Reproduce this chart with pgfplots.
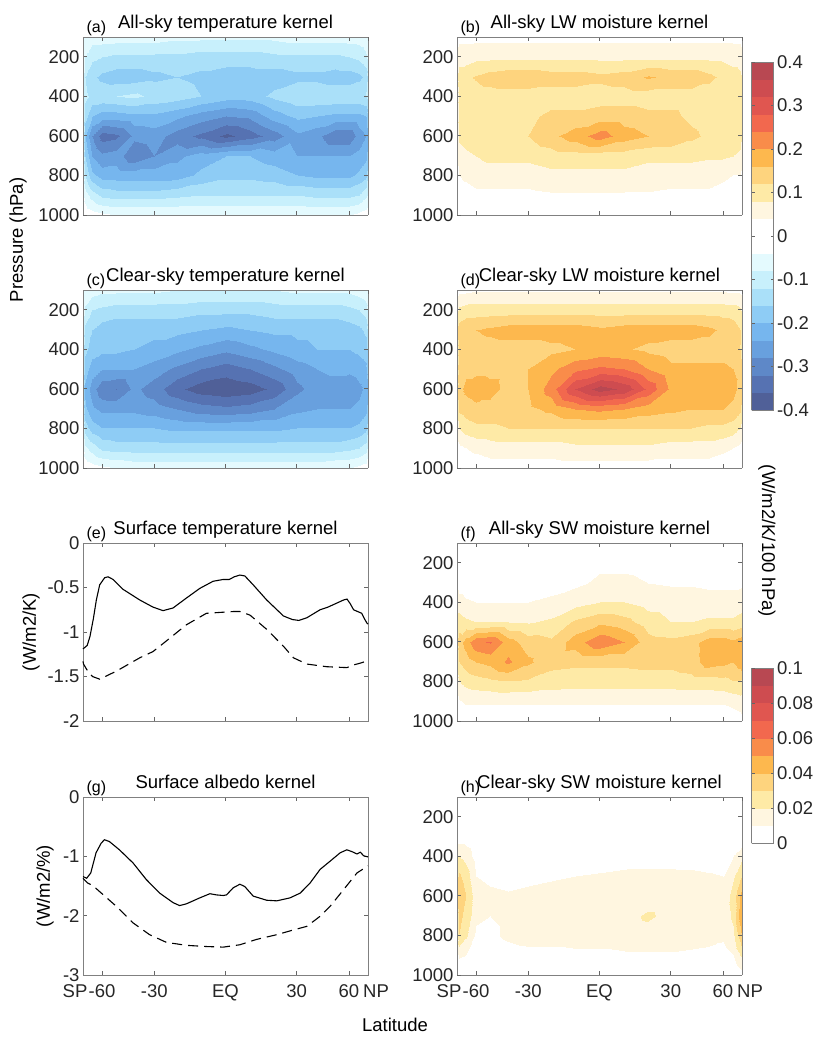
\documentclass[border=0pt]{standalone}
\usepackage{fontspec}
\setmainfont{Liberation Sans}
\usepackage{pgfplots}
\pgfplotsset{compat=1.18}

\newcommand{\fs}{\fontsize{18.5}{20}\selectfont}
\newcommand{\fl}{\fontsize{16}{18}\selectfont}
\definecolor{txt}{RGB}{38,38,38}

% 20 bands of 0.04 (upper bar) and 10 bands of 0.01 (lower bar)
\pgfplotsset{
  colormap={kern}{rgb255=(80,96,152) rgb255=(86,114,178) rgb255=(94,136,200) rgb255=(104,160,222)
    rgb255=(118,182,238) rgb255=(142,204,245) rgb255=(170,224,249) rgb255=(200,240,252)
    rgb255=(228,250,254) rgb255=(255,255,255) rgb255=(255,255,255) rgb255=(255,246,224)
    rgb255=(254,234,166) rgb255=(254,212,126) rgb255=(253,184,78) rgb255=(249,140,74)
    rgb255=(242,104,78) rgb255=(224,86,80) rgb255=(206,76,80) rgb255=(184,72,82)},
  colormap={kernsw}{rgb255=(255,255,255) rgb255=(255,246,224) rgb255=(254,234,166)
    rgb255=(254,212,126) rgb255=(253,184,78) rgb255=(249,140,74) rgb255=(242,104,78)
    rgb255=(224,86,80) rgb255=(206,76,80) rgb255=(184,72,82)},
}

\pgfplotsset{
  panel/.style={
    scale only axis, width=285pt, height=178pt, anchor=north west, clip=false,
    x coord trafo/.code={\pgfmathparse{sin(##1)}},
    x coord inv trafo/.code={\pgfmathparse{asin(##1)}},
    xmin=-90, xmax=90,
    xtick={-90,-60,-30,0,30,60,90},
    xticklabels={},
    tick align=inside, major tick length=4pt,
    axis line style={black!50, line width=0.8pt},
    every tick/.style={black!60, line width=0.8pt},
    tick label style={font=\fs, text=txt},
    /pgf/number format/assume math mode=true,
    /pgf/number format/1000 sep={},
  },
  bottomx/.style={xticklabels={SP\hspace*{16pt},-60,-30,EQ,30,60,\hspace*{16pt}NP},
    xticklabel style={yshift=-6pt}},
  cont/.style={
    panel, view={0}{90}, y dir=reverse, ymin=100, ymax=1000,
    ytick={200,400,600,800,1000}, ztick=\empty,
    colormap access=piecewise constant,
  },
  lw/.style={cont, colormap name=kern, point meta min=-0.4, point meta max=0.4},
  sw/.style={cont, colormap name=kernsw, point meta min=0, point meta max=0.1},
  cbar/.style={
    at={(parent axis.north east)}, anchor=north west, xshift=1pt,
    scale only axis, width=22pt,
    tick align=inside, major tick length=3pt,
    axis line style={black!50, line width=0.8pt},
    every tick/.style={black!60, line width=0.8pt},
    yticklabel pos=right,
    tick label style={font=\fs, text=txt},
    /pgf/number format/assume math mode=true,
    /pgf/number format/fixed,
    /pgf/number format/precision=2,
  },
}

\begin{document}
\begin{tikzpicture}
\path[use as bounding box] (0,0) rectangle (813pt,-1039pt);

% (a) all-sky temperature kernel
\begin{axis}[lw, at={(83pt,-37pt)}]
\addplot3[surf, shader=interp] coordinates {
(-90,100,-0.03) (-80,100,-0.05) (-70,100,-0.06) (-60,100,-0.06) (-50,100,-0.06) (-40,100,-0.06) (-30,100,-0.06) (-20,100,-0.07) (-10,100,-0.07) (0,100,-0.07) (10,100,-0.07) (20,100,-0.07) (30,100,-0.06) (40,100,-0.06) (50,100,-0.06) (60,100,-0.06) (70,100,-0.06) (80,100,-0.05) (90,100,-0.03)

(-90,200,-0.05) (-80,200,-0.08) (-70,200,-0.11) (-60,200,-0.12) (-50,200,-0.13) (-40,200,-0.13) (-30,200,-0.13) (-20,200,-0.13) (-10,200,-0.14) (0,200,-0.14) (10,200,-0.14) (20,200,-0.13) (30,200,-0.13) (40,200,-0.13) (50,200,-0.13) (60,200,-0.12) (70,200,-0.11) (80,200,-0.09) (90,200,-0.06)

(-90,300,-0.08) (-80,300,-0.12) (-70,300,-0.15) (-60,300,-0.17) (-50,300,-0.18) (-40,300,-0.18) (-30,300,-0.17) (-20,300,-0.16) (-10,300,-0.17) (0,300,-0.18) (10,300,-0.18) (20,300,-0.18) (30,300,-0.17) (40,300,-0.17) (50,300,-0.18) (60,300,-0.18) (70,300,-0.17) (80,300,-0.15) (90,300,-0.10)

(-90,400,-0.07) (-80,400,-0.11) (-70,400,-0.13) (-60,400,-0.13) (-50,400,-0.12) (-40,400,-0.11) (-30,400,-0.13) (-20,400,-0.14) (-10,400,-0.16) (0,400,-0.18) (10,400,-0.18) (20,400,-0.15) (30,400,-0.13) (40,400,-0.13) (50,400,-0.13) (60,400,-0.13) (70,400,-0.13) (80,400,-0.12) (90,400,-0.10)

(-90,500,-0.08) (-80,500,-0.14) (-70,500,-0.20) (-60,500,-0.22) (-50,500,-0.22) (-40,500,-0.21) (-30,500,-0.21) (-20,500,-0.23) (-10,500,-0.26) (0,500,-0.28) (10,500,-0.27) (20,500,-0.22) (30,500,-0.19) (40,500,-0.20) (50,500,-0.21) (60,500,-0.21) (70,500,-0.21) (80,500,-0.20) (90,500,-0.15)

(-90,600,-0.10) (-80,600,-0.20) (-70,600,-0.28) (-60,600,-0.34) (-50,600,-0.33) (-40,600,-0.27) (-30,600,-0.26) (-20,600,-0.30) (-10,600,-0.33) (0,600,-0.37) (10,600,-0.34) (20,600,-0.30) (30,600,-0.25) (40,600,-0.27) (50,600,-0.31) (60,600,-0.31) (70,600,-0.26) (80,600,-0.24) (90,600,-0.20)

(-90,700,-0.08) (-80,700,-0.16) (-70,700,-0.24) (-60,700,-0.27) (-50,700,-0.26) (-40,700,-0.31) (-30,700,-0.28) (-20,700,-0.25) (-10,700,-0.22) (0,700,-0.20) (10,700,-0.20) (20,700,-0.22) (30,700,-0.24) (40,700,-0.24) (50,700,-0.24) (60,700,-0.24) (70,700,-0.23) (80,700,-0.21) (90,700,-0.16)

(-90,800,-0.06) (-80,800,-0.12) (-70,800,-0.19) (-60,800,-0.22) (-50,800,-0.22) (-40,800,-0.22) (-30,800,-0.22) (-20,800,-0.22) (-10,800,-0.19) (0,800,-0.17) (10,800,-0.17) (20,800,-0.18) (30,800,-0.20) (40,800,-0.21) (50,800,-0.21) (60,800,-0.21) (70,800,-0.19) (80,800,-0.17) (90,800,-0.12)

(-90,900,-0.03) (-80,900,-0.06) (-70,900,-0.10) (-60,900,-0.13) (-50,900,-0.14) (-40,900,-0.14) (-30,900,-0.14) (-20,900,-0.13) (-10,900,-0.12) (0,900,-0.12) (10,900,-0.12) (20,900,-0.12) (30,900,-0.12) (40,900,-0.13) (50,900,-0.13) (60,900,-0.13) (70,900,-0.12) (80,900,-0.09) (90,900,-0.07)

(-90,1000,0) (-80,1000,-0.01) (-70,1000,-0.02) (-60,1000,-0.03) (-50,1000,-0.04) (-40,1000,-0.04) (-30,1000,-0.04) (-20,1000,-0.04) (-10,1000,-0.04) (0,1000,-0.04) (10,1000,-0.04) (20,1000,-0.04) (30,1000,-0.04) (40,1000,-0.04) (50,1000,-0.04) (60,1000,-0.04) (70,1000,-0.03) (80,1000,-0.02) (90,1000,-0.01)
};
\node[anchor=base, font=\fs] at (axis description cs:0.5,1) [yshift=9pt] {All-sky temperature kernel};
\node[anchor=base west, font=\fl] at (axis description cs:0,1) [yshift=5pt] {(a)};
\end{axis}

% (b) all-sky LW moisture kernel
\begin{axis}[lw, at={(457pt,-37pt)}, colorbar,
  colorbar style={cbar, yshift=-25pt, height=348pt,
    ytick={-0.4,-0.3,-0.2,-0.1,0,0.1,0.2,0.3,0.4}}]
\addplot3[surf, shader=interp] coordinates {
(-90,100,0.02) (-80,100,0.03) (-70,100,0.03) (-60,100,0.03) (-50,100,0.03) (-40,100,0.03) (-30,100,0.03) (-20,100,0.03) (-10,100,0.03) (0,100,0.03) (10,100,0.03) (20,100,0.03) (30,100,0.03) (40,100,0.03) (50,100,0.03) (60,100,0.03) (70,100,0.03) (80,100,0.03) (90,100,0.02)

(-90,200,0.05) (-80,200,0.06) (-70,200,0.06) (-60,200,0.07) (-50,200,0.07) (-40,200,0.07) (-30,200,0.07) (-20,200,0.07) (-10,200,0.07) (0,200,0.07) (10,200,0.07) (20,200,0.07) (30,200,0.07) (40,200,0.07) (50,200,0.07) (60,200,0.07) (70,200,0.06) (80,200,0.06) (90,200,0.05)

(-90,300,0.07) (-80,300,0.10) (-70,300,0.11) (-60,300,0.125) (-50,300,0.14) (-40,300,0.15) (-30,300,0.15) (-20,300,0.14) (-10,300,0.14) (0,300,0.13) (10,300,0.14) (20,300,0.165) (30,300,0.15) (40,300,0.15) (50,300,0.13) (60,300,0.11) (70,300,0.10) (80,300,0.09) (90,300,0.08)

(-90,400,0.06) (-80,400,0.09) (-70,400,0.09) (-60,400,0.10) (-50,400,0.10) (-40,400,0.10) (-30,400,0.10) (-20,400,0.10) (-10,400,0.10) (0,400,0.10) (10,400,0.10) (20,400,0.10) (30,400,0.10) (40,400,0.10) (50,400,0.10) (60,400,0.10) (70,400,0.09) (80,400,0.09) (90,400,0.08)

(-90,500,0.06) (-80,500,0.09) (-70,500,0.10) (-60,500,0.10) (-50,500,0.10) (-40,500,0.10) (-30,500,0.11) (-20,500,0.13) (-10,500,0.13) (0,500,0.14) (10,500,0.14) (20,500,0.13) (30,500,0.13) (40,500,0.11) (50,500,0.10) (60,500,0.10) (70,500,0.10) (80,500,0.09) (90,500,0.08)

(-90,600,0.06) (-80,600,0.09) (-70,600,0.10) (-60,600,0.11) (-50,600,0.11) (-40,600,0.11) (-30,600,0.12) (-20,600,0.15) (-10,600,0.18) (0,600,0.22) (10,600,0.18) (20,600,0.16) (30,600,0.15) (40,600,0.13) (50,600,0.11) (60,600,0.10) (70,600,0.10) (80,600,0.10) (90,600,0.08)

(-90,700,0.04) (-80,700,0.06) (-70,700,0.07) (-60,700,0.08) (-50,700,0.09) (-40,700,0.09) (-30,700,0.09) (-20,700,0.10) (-10,700,0.10) (0,700,0.10) (10,700,0.10) (20,700,0.09) (30,700,0.09) (40,700,0.09) (50,700,0.085) (60,700,0.085) (70,700,0.08) (80,700,0.07) (90,700,0.05)

(-90,800,0.02) (-80,800,0.04) (-70,800,0.05) (-60,800,0.06) (-50,800,0.06) (-40,800,0.06) (-30,800,0.06) (-20,800,0.07) (-10,800,0.07) (0,800,0.07) (10,800,0.07) (20,800,0.06) (30,800,0.06) (40,800,0.06) (50,800,0.06) (60,800,0.05) (70,800,0.04) (80,800,0.04) (90,800,0.03)

(-90,900,0.01) (-80,900,0.02) (-70,900,0.02) (-60,900,0.03) (-50,900,0.03) (-40,900,0.03) (-30,900,0.03) (-20,900,0.035) (-10,900,0.035) (0,900,0.035) (10,900,0.035) (20,900,0.035) (30,900,0.03) (40,900,0.03) (50,900,0.03) (60,900,0.02) (70,900,0.02) (80,900,0.02) (90,900,0.01)

(-90,1000,0) (-80,1000,0) (-70,1000,0) (-60,1000,0.01) (-50,1000,0.01) (-40,1000,0.01) (-30,1000,0.01) (-20,1000,0.01) (-10,1000,0.01) (0,1000,0.01) (10,1000,0.01) (20,1000,0.01) (30,1000,0.01) (40,1000,0.01) (50,1000,0.01) (60,1000,0.01) (70,1000,0) (80,1000,0) (90,1000,0)
};
\node[anchor=base, font=\fs] at (axis description cs:0.5,1) [yshift=9pt] {All-sky LW moisture kernel};
\node[anchor=base west, font=\fl] at (axis description cs:0,1) [yshift=5pt] {(b)};
\end{axis}

% (c) clear-sky temperature kernel
\begin{axis}[lw, at={(83pt,-290pt)}]
\addplot3[surf, shader=interp] coordinates {
(-90,100,-0.03) (-80,100,-0.05) (-70,100,-0.06) (-60,100,-0.07) (-50,100,-0.07) (-40,100,-0.07) (-30,100,-0.07) (-20,100,-0.08) (-10,100,-0.08) (0,100,-0.08) (10,100,-0.08) (20,100,-0.08) (30,100,-0.07) (40,100,-0.07) (50,100,-0.07) (60,100,-0.07) (70,100,-0.06) (80,100,-0.05) (90,100,-0.03)

(-90,200,-0.05) (-80,200,-0.09) (-70,200,-0.12) (-60,200,-0.13) (-50,200,-0.14) (-40,200,-0.14) (-30,200,-0.14) (-20,200,-0.14) (-10,200,-0.15) (0,200,-0.15) (10,200,-0.15) (20,200,-0.14) (30,200,-0.14) (40,200,-0.14) (50,200,-0.14) (60,200,-0.13) (70,200,-0.12) (80,200,-0.10) (90,200,-0.06)

(-90,300,-0.08) (-80,300,-0.13) (-70,300,-0.16) (-60,300,-0.18) (-50,300,-0.19) (-40,300,-0.19) (-30,300,-0.19) (-20,300,-0.19) (-10,300,-0.20) (0,300,-0.21) (10,300,-0.20) (20,300,-0.19) (30,300,-0.19) (40,300,-0.19) (50,300,-0.19) (60,300,-0.18) (70,300,-0.17) (80,300,-0.15) (90,300,-0.10)

(-90,400,-0.10) (-80,400,-0.15) (-70,400,-0.18) (-60,400,-0.19) (-50,400,-0.19) (-40,400,-0.20) (-30,400,-0.21) (-20,400,-0.23) (-10,400,-0.25) (0,400,-0.27) (10,400,-0.25) (20,400,-0.23) (30,400,-0.21) (40,400,-0.20) (50,400,-0.20) (60,400,-0.20) (70,400,-0.19) (80,400,-0.18) (90,400,-0.14)

(-90,500,-0.12) (-80,500,-0.18) (-70,500,-0.22) (-60,500,-0.24) (-50,500,-0.24) (-40,500,-0.24) (-30,500,-0.26) (-20,500,-0.29) (-10,500,-0.32) (0,500,-0.34) (10,500,-0.32) (20,500,-0.29) (30,500,-0.26) (40,500,-0.24) (50,500,-0.23) (60,500,-0.23) (70,500,-0.22) (80,500,-0.21) (90,500,-0.17)

(-90,600,-0.14) (-80,600,-0.21) (-70,600,-0.26) (-60,600,-0.31) (-50,600,-0.32) (-40,600,-0.27) (-30,600,-0.30) (-20,600,-0.35) (-10,600,-0.38) (0,600,-0.39) (10,600,-0.38) (20,600,-0.35) (30,600,-0.29) (40,600,-0.26) (50,600,-0.26) (60,600,-0.27) (70,600,-0.25) (80,600,-0.23) (90,600,-0.20)

(-90,700,-0.12) (-80,700,-0.19) (-70,700,-0.23) (-60,700,-0.25) (-50,700,-0.25) (-40,700,-0.25) (-30,700,-0.26) (-20,700,-0.28) (-10,700,-0.30) (0,700,-0.31) (10,700,-0.30) (20,700,-0.28) (30,700,-0.25) (40,700,-0.24) (50,700,-0.24) (60,700,-0.24) (70,700,-0.23) (80,700,-0.21) (90,700,-0.17)

(-90,800,-0.08) (-80,800,-0.14) (-70,800,-0.18) (-60,800,-0.20) (-50,800,-0.20) (-40,800,-0.20) (-30,800,-0.20) (-20,800,-0.21) (-10,800,-0.21) (0,800,-0.21) (10,800,-0.21) (20,800,-0.21) (30,800,-0.20) (40,800,-0.20) (50,800,-0.20) (60,800,-0.20) (70,800,-0.19) (80,800,-0.17) (90,800,-0.13)

(-90,900,-0.03) (-80,900,-0.07) (-70,900,-0.10) (-60,900,-0.13) (-50,900,-0.14) (-40,900,-0.14) (-30,900,-0.14) (-20,900,-0.14) (-10,900,-0.14) (0,900,-0.14) (10,900,-0.14) (20,900,-0.14) (30,900,-0.14) (40,900,-0.14) (50,900,-0.14) (60,900,-0.13) (70,900,-0.12) (80,900,-0.10) (90,900,-0.06)

(-90,1000,0) (-80,1000,-0.01) (-70,1000,-0.02) (-60,1000,-0.03) (-50,1000,-0.04) (-40,1000,-0.05) (-30,1000,-0.05) (-20,1000,-0.05) (-10,1000,-0.05) (0,1000,-0.05) (10,1000,-0.05) (20,1000,-0.05) (30,1000,-0.05) (40,1000,-0.05) (50,1000,-0.04) (60,1000,-0.04) (70,1000,-0.03) (80,1000,-0.02) (90,1000,-0.01)
};
\node[anchor=base, font=\fs] at (axis description cs:0.5,1) [yshift=9pt] {Clear-sky temperature kernel};
\node[anchor=base west, font=\fl] at (axis description cs:0,1) [yshift=5pt] {(c)};
\end{axis}

% (d) clear-sky LW moisture kernel
\begin{axis}[lw, at={(457pt,-290pt)}]
\addplot3[surf, shader=interp] coordinates {
(-90,100,0.02) (-80,100,0.03) (-70,100,0.03) (-60,100,0.035) (-50,100,0.035) (-40,100,0.035) (-30,100,0.035) (-20,100,0.035) (-10,100,0.035) (0,100,0.035) (10,100,0.035) (20,100,0.035) (30,100,0.035) (40,100,0.035) (50,100,0.035) (60,100,0.035) (70,100,0.03) (80,100,0.03) (90,100,0.02)

(-90,200,0.07) (-80,200,0.09) (-70,200,0.10) (-60,200,0.10) (-50,200,0.10) (-40,200,0.10) (-30,200,0.10) (-20,200,0.10) (-10,200,0.10) (0,200,0.10) (10,200,0.10) (20,200,0.10) (30,200,0.10) (40,200,0.10) (50,200,0.10) (60,200,0.10) (70,200,0.10) (80,200,0.09) (90,200,0.07)

(-90,300,0.12) (-80,300,0.14) (-70,300,0.15) (-60,300,0.16) (-50,300,0.17) (-40,300,0.18) (-30,300,0.18) (-20,300,0.18) (-10,300,0.18) (0,300,0.17) (10,300,0.18) (20,300,0.18) (30,300,0.18) (40,300,0.18) (50,300,0.17) (60,300,0.15) (70,300,0.14) (80,300,0.12) (90,300,0.10)

(-90,400,0.10) (-80,400,0.13) (-70,400,0.14) (-60,400,0.14) (-50,400,0.14) (-40,400,0.14) (-30,400,0.14) (-20,400,0.15) (-10,400,0.16) (0,400,0.17) (10,400,0.165) (20,400,0.15) (30,400,0.14) (40,400,0.14) (50,400,0.14) (60,400,0.14) (70,400,0.13) (80,400,0.12) (90,400,0.09)

(-90,500,0.10) (-80,500,0.14) (-70,500,0.15) (-60,500,0.15) (-50,500,0.15) (-40,500,0.15) (-30,500,0.16) (-20,500,0.19) (-10,500,0.23) (0,500,0.25) (10,500,0.24) (20,500,0.20) (30,500,0.17) (40,500,0.17) (50,500,0.17) (60,500,0.17) (70,500,0.16) (80,500,0.15) (90,500,0.12)

(-90,600,0.11) (-80,600,0.15) (-70,600,0.17) (-60,600,0.18) (-50,600,0.17) (-40,600,0.15) (-30,600,0.16) (-20,600,0.22) (-10,600,0.32) (0,600,0.38) (10,600,0.35) (20,600,0.27) (30,600,0.19) (40,600,0.17) (50,600,0.17) (60,600,0.17) (70,600,0.17) (80,600,0.15) (90,600,0.12)

(-90,700,0.09) (-80,700,0.13) (-70,700,0.14) (-60,700,0.15) (-50,700,0.15) (-40,700,0.15) (-30,700,0.15) (-20,700,0.17) (-10,700,0.20) (0,700,0.21) (10,700,0.20) (20,700,0.18) (30,700,0.17) (40,700,0.16) (50,700,0.16) (60,700,0.16) (70,700,0.15) (80,700,0.13) (90,700,0.10)

(-90,800,0.05) (-80,800,0.08) (-70,800,0.10) (-60,800,0.11) (-50,800,0.11) (-40,800,0.12) (-30,800,0.12) (-20,800,0.12) (-10,800,0.12) (0,800,0.12) (10,800,0.12) (20,800,0.12) (30,800,0.12) (40,800,0.12) (50,800,0.11) (60,800,0.11) (70,800,0.10) (80,800,0.08) (90,800,0.06)

(-90,900,0.02) (-80,900,0.03) (-70,900,0.04) (-60,900,0.05) (-50,900,0.06) (-40,900,0.06) (-30,900,0.06) (-20,900,0.06) (-10,900,0.07) (0,900,0.07) (10,900,0.07) (20,900,0.07) (30,900,0.06) (40,900,0.06) (50,900,0.06) (60,900,0.05) (70,900,0.04) (80,900,0.03) (90,900,0.02)

(-90,1000,0) (-80,1000,0.01) (-70,1000,0.01) (-60,1000,0.01) (-50,1000,0.02) (-40,1000,0.02) (-30,1000,0.02) (-20,1000,0.02) (-10,1000,0.02) (0,1000,0.02) (10,1000,0.02) (20,1000,0.02) (30,1000,0.02) (40,1000,0.02) (50,1000,0.02) (60,1000,0.01) (70,1000,0.01) (80,1000,0.01) (90,1000,0)
};
\node[anchor=base, font=\fs] at (axis description cs:0.5,1) [yshift=9pt] {Clear-sky LW moisture kernel};
\node[anchor=base west, font=\fl] at (axis description cs:0,1) [yshift=5pt] {(d)};
\end{axis}

% (e) surface temperature kernel
\begin{axis}[panel, at={(83pt,-543pt)}, ymin=-2, ymax=0, ytick={-2,-1.5,-1,-0.5,0}]
\addplot[black, line width=1.1pt] coordinates {
(-90,-1.19) (-80,-1.17) (-76,-1.15) (-72,-1.05) (-68,-0.85) (-65,-0.64) (-62,-0.47) (-58,-0.39) (-55.5,-0.38) (-52,-0.41) (-46,-0.52) (-37,-0.64) (-30.6,-0.72) (-26,-0.76) (-21.6,-0.73) (-16,-0.62) (-10.4,-0.51) (-5,-0.43) (-1,-0.41) (1.5,-0.41) (3.5,-0.38) (5.8,-0.36) (7.8,-0.37) (11.2,-0.47) (16.8,-0.64) (24,-0.82) (28,-0.86) (31,-0.87) (34.8,-0.84) (41.6,-0.75) (46,-0.72) (52,-0.67) (56,-0.64) (58.5,-0.63) (61,-0.68) (64,-0.75) (68,-0.77) (73,-0.79) (78,-0.86) (83,-0.9) (90,-0.91)
};
\addplot[black, line width=1.1pt, dash pattern=on 10pt off 6pt] coordinates {
(-90,-1.33) (-85,-1.36) (-77,-1.42) (-69,-1.5) (-62,-1.53) (-50,-1.44) (-37,-1.29) (-30.6,-1.22) (-24.5,-1.1) (-16,-0.92) (-7.7,-0.79) (-2.3,-0.78) (3.1,-0.77) (5.8,-0.77) (9.9,-0.81) (16.8,-0.97) (24,-1.16) (28.5,-1.29) (34.8,-1.36) (45.3,-1.39) (58.4,-1.4) (64,-1.37) (71,-1.35) (80,-1.33) (90,-1.31)
};
\node[anchor=base, font=\fs] at (axis description cs:0.5,1) [yshift=9pt] {Surface temperature kernel};
\node[anchor=base west, font=\fl] at (axis description cs:0,1) [yshift=5pt] {(e)};
\end{axis}

% (f) all-sky SW moisture kernel
\begin{axis}[sw, at={(457pt,-543pt)}, colorbar,
  colorbar style={cbar, yshift=-125pt, height=175pt,
    ytick={0,0.02,0.04,0.06,0.08,0.1}}]
\addplot3[surf, shader=interp] coordinates {
(-90,100,0) (-80,100,0) (-70,100,0) (-60,100,0) (-50,100,0) (-40,100,0) (-30,100,0) (-20,100,0) (-10,100,0) (0,100,0) (10,100,0) (20,100,0) (30,100,0) (40,100,0) (50,100,0) (60,100,0) (70,100,0) (80,100,0) (90,100,0)

(-90,200,0) (-80,200,0) (-70,200,0) (-60,200,0) (-50,200,0) (-40,200,0) (-30,200,0) (-20,200,0) (-10,200,0.005) (0,200,0.008) (10,200,0.008) (20,200,0.007) (30,200,0.006) (40,200,0.006) (50,200,0.005) (60,200,0.005) (70,200,0.005) (80,200,0.004) (90,200,0.003)

(-90,300,0.008) (-80,300,0.005) (-70,300,0.005) (-60,300,0.005) (-50,300,0.005) (-40,300,0.005) (-30,300,0.005) (-20,300,0.006) (-10,300,0.008) (0,300,0.012) (10,300,0.012) (20,300,0.010) (30,300,0.009) (40,300,0.009) (50,300,0.008) (60,300,0.008) (70,300,0.008) (80,300,0.008) (90,300,0.009)

(-90,400,0.020) (-80,400,0.014) (-70,400,0.011) (-60,400,0.010) (-50,400,0.010) (-40,400,0.010) (-30,400,0.010) (-20,400,0.012) (-10,400,0.016) (0,400,0.020) (10,400,0.020) (20,400,0.016) (30,400,0.015) (40,400,0.015) (50,400,0.014) (60,400,0.014) (70,400,0.014) (80,400,0.015) (90,400,0.016)

(-90,500,0.025) (-80,500,0.025) (-70,500,0.022) (-60,500,0.020) (-50,500,0.020) (-40,500,0.020) (-30,500,0.019) (-20,500,0.022) (-10,500,0.032) (0,500,0.038) (10,500,0.034) (20,500,0.025) (30,500,0.020) (40,500,0.020) (50,500,0.022) (60,500,0.022) (70,500,0.022) (80,500,0.024) (90,500,0.025)

(-90,600,0.028) (-80,600,0.035) (-70,600,0.045) (-60,600,0.058) (-50,600,0.061) (-40,600,0.045) (-30,600,0.035) (-20,600,0.032) (-10,600,0.045) (0,600,0.058) (10,600,0.050) (20,600,0.034) (30,600,0.033) (40,600,0.036) (50,600,0.045) (60,600,0.045) (70,600,0.042) (80,600,0.045) (90,600,0.050)

(-90,700,0.022) (-80,700,0.030) (-70,700,0.035) (-60,700,0.040) (-50,700,0.043) (-40,700,0.052) (-30,700,0.042) (-20,700,0.033) (-10,700,0.032) (0,700,0.032) (10,700,0.032) (20,700,0.033) (30,700,0.033) (40,700,0.036) (50,700,0.045) (60,700,0.043) (70,700,0.040) (80,700,0.045) (90,700,0.048)

(-90,800,0.015) (-80,800,0.020) (-70,800,0.024) (-60,800,0.026) (-50,800,0.028) (-40,800,0.030) (-30,800,0.029) (-20,800,0.026) (-10,800,0.025) (0,800,0.025) (10,800,0.025) (20,800,0.025) (30,800,0.025) (40,800,0.026) (50,800,0.026) (60,800,0.027) (70,800,0.030) (80,800,0.030) (90,800,0.028)

(-90,900,0.006) (-80,900,0.009) (-70,900,0.012) (-60,900,0.012) (-50,900,0.012) (-40,900,0.012) (-30,900,0.012) (-20,900,0.012) (-10,900,0.012) (0,900,0.012) (10,900,0.012) (20,900,0.012) (30,900,0.012) (40,900,0.012) (50,900,0.012) (60,900,0.012) (70,900,0.014) (80,900,0.016) (90,900,0.018)

(-90,1000,0) (-80,1000,0) (-70,1000,0) (-60,1000,0) (-50,1000,0) (-40,1000,0) (-30,1000,0) (-20,1000,0) (-10,1000,0) (0,1000,0) (10,1000,0) (20,1000,0) (30,1000,0) (40,1000,0) (50,1000,0) (60,1000,0) (70,1000,0.003) (80,1000,0.005) (90,1000,0.006)
};
\node[anchor=base, font=\fs] at (axis description cs:0.5,1) [yshift=9pt] {All-sky SW moisture kernel};
\node[anchor=base west, font=\fl] at (axis description cs:0,1) [yshift=5pt] {(f)};
\end{axis}

% (g) surface albedo kernel
\begin{axis}[panel, bottomx, at={(83pt,-797pt)}, ymin=-3, ymax=0, ytick={-3,-2,-1,0}]
\addplot[black, line width=1.1pt] coordinates {
(-90,-1.34) (-77,-1.37) (-71,-1.28) (-65.3,-0.94) (-60.8,-0.78) (-58.2,-0.72) (-54.6,-0.75) (-48.1,-0.89) (-40.5,-1.11) (-33.8,-1.39) (-27.5,-1.62) (-21.6,-1.78) (-18.8,-1.83) (-15.9,-1.8) (-10.4,-1.7) (-6.3,-1.63) (-3.6,-1.65) (-0.9,-1.66) (0.4,-1.65) (3.1,-1.53) (5.8,-1.47) (7.8,-1.51) (11.2,-1.67) (16.8,-1.74) (21.1,-1.75) (26.9,-1.7) (31.6,-1.62) (36.4,-1.45) (41.6,-1.22) (47.3,-1.08) (53.6,-0.94) (58.4,-0.89) (62.5,-0.92) (67.3,-0.96) (71.1,-0.93) (75.8,-0.99) (90,-1.01)
};
\addplot[black, line width=1.1pt, dash pattern=on 10pt off 6pt] coordinates {
(-90,-1.37) (-75.3,-1.45) (-68.8,-1.49) (-62.3,-1.59) (-50.1,-1.84) (-40.5,-2.12) (-32.2,-2.32) (-24.5,-2.45) (-15.9,-2.5) (-7.7,-2.52) (-0.9,-2.53) (5.8,-2.49) (12.6,-2.4) (21.1,-2.32) (28.5,-2.24) (34.8,-2.18) (41.6,-2.01) (47.3,-1.84) (56,-1.56) (67.3,-1.28) (90,-1.16)
};
\node[anchor=base, font=\fs] at (axis description cs:0.5,1) [yshift=9pt] {Surface albedo kernel};
\node[anchor=base west, font=\fl] at (axis description cs:0,1) [yshift=5pt] {(g)};
\end{axis}

% (h) clear-sky SW moisture kernel
\begin{axis}[sw, bottomx, at={(457pt,-797pt)}]
\addplot3[surf, shader=interp] coordinates {
(-90,100,0) (-80,100,0) (-70,100,0) (-60,100,0) (-50,100,0) (-40,100,0) (-30,100,0) (-20,100,0) (-10,100,0) (0,100,0) (10,100,0) (20,100,0) (30,100,0) (40,100,0) (50,100,0) (60,100,0) (70,100,0) (80,100,0) (90,100,0)

(-90,200,0) (-80,200,0) (-70,200,0) (-60,200,0) (-50,200,0) (-40,200,0) (-30,200,0) (-20,200,0) (-10,200,0) (0,200,0) (10,200,0) (20,200,0) (30,200,0) (40,200,0) (50,200,0) (60,200,0) (70,200,0) (80,200,0) (90,200,0)

(-90,300,0.006) (-80,300,0.005) (-70,300,0.005) (-60,300,0.002) (-50,300,0) (-40,300,0) (-30,300,0) (-20,300,0) (-10,300,0) (0,300,0) (10,300,0) (20,300,0) (30,300,0) (40,300,0) (50,300,0) (60,300,0) (70,300,0) (80,300,0.003) (90,300,0.005)

(-90,400,0.020) (-80,400,0.020) (-70,400,0.016) (-60,400,0.006) (-50,400,0.003) (-40,400,0.002) (-30,400,0.002) (-20,400,0.003) (-10,400,0.004) (0,400,0.005) (10,400,0.006) (20,400,0.007) (30,400,0.007) (40,400,0.006) (50,400,0.005) (60,400,0.005) (70,400,0.010) (80,400,0.014) (90,400,0.018)

(-90,500,0.028) (-80,500,0.032) (-70,500,0.025) (-60,500,0.010) (-50,500,0.008) (-40,500,0.007) (-30,500,0.008) (-20,500,0.009) (-10,500,0.010) (0,500,0.011) (10,500,0.012) (20,500,0.012) (30,500,0.012) (40,500,0.012) (50,500,0.011) (60,500,0.010) (70,500,0.018) (80,500,0.028) (90,500,0.030)

(-90,600,0.035) (-80,600,0.038) (-70,600,0.030) (-60,600,0.014) (-50,600,0.012) (-40,600,0.011) (-30,600,0.012) (-20,600,0.013) (-10,600,0.013) (0,600,0.014) (10,600,0.014) (20,600,0.014) (30,600,0.014) (40,600,0.014) (50,600,0.013) (60,600,0.012) (70,600,0.025) (80,600,0.040) (90,600,0.048)

(-90,700,0.025) (-80,700,0.032) (-70,700,0.028) (-60,700,0.012) (-50,700,0.010) (-40,700,0.012) (-30,700,0.014) (-20,700,0.014) (-10,700,0.015) (0,700,0.015) (10,700,0.016) (20,700,0.022) (30,700,0.016) (40,700,0.015) (50,700,0.014) (60,700,0.013) (70,700,0.022) (80,700,0.045) (90,700,0.055)

(-90,800,0.018) (-80,800,0.030) (-70,800,0.022) (-60,800,0.008) (-50,800,0.008) (-40,800,0.012) (-30,800,0.014) (-20,800,0.014) (-10,800,0.014) (0,800,0.014) (10,800,0.014) (20,800,0.015) (30,800,0.015) (40,800,0.015) (50,800,0.014) (60,800,0.012) (70,800,0.018) (80,800,0.035) (90,800,0.040)

(-90,900,0.008) (-80,900,0.012) (-70,900,0.010) (-60,900,0.004) (-50,900,0.004) (-40,900,0.006) (-30,900,0.007) (-20,900,0.007) (-10,900,0.008) (0,900,0.008) (10,900,0.009) (20,900,0.009) (30,900,0.009) (40,900,0.008) (50,900,0.007) (60,900,0.006) (70,900,0.010) (80,900,0.020) (90,900,0.022)

(-90,1000,0) (-80,1000,0) (-70,1000,0) (-60,1000,0) (-50,1000,0) (-40,1000,0) (-30,1000,0) (-20,1000,0) (-10,1000,0) (0,1000,0) (10,1000,0) (20,1000,0) (30,1000,0) (40,1000,0) (50,1000,0) (60,1000,0) (70,1000,0) (80,1000,0.005) (90,1000,0.008)
};
\node[anchor=base, font=\fs] at (axis description cs:0.5,1) [yshift=9pt] {Clear-sky SW moisture kernel};
\node[anchor=base west, font=\fl] at (axis description cs:0,1) [yshift=5pt] {(h)};
\end{axis}

% shared labels
\node[rotate=90, font=\fs] at (18pt,-240pt) {Pressure (hPa)};
\node[rotate=90, font=\fs] at (31pt,-632pt) {(W/m2/K)};
\node[rotate=90, font=\fs] at (45pt,-886pt) {(W/m2/\%)};
\node[rotate=-90, font=\fs] at (767pt,-541pt) {(W/m2/K/100 hPa)};
\node[font=\fs] at (395pt,-1025pt) {Latitude};
\end{tikzpicture}
\end{document}
